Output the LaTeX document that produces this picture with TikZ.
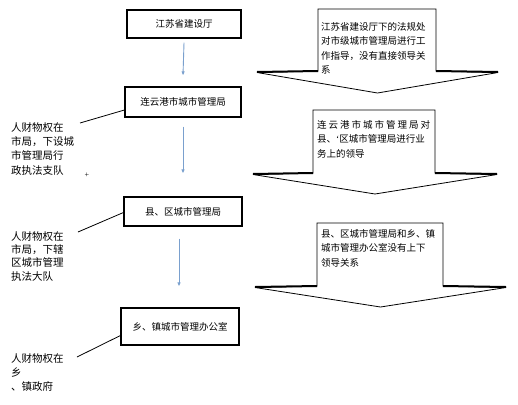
\documentclass[tikz,border=0pt]{standalone}
\usepackage{fontspec}
\setmainfont{Liberation Serif}
\newfontfamily\cjk{Noto Sans CJK SC}
\newfontfamily\latinfont{Liberation Serif}
\usetikzlibrary{arrows.meta}
\definecolor{flowblue}{RGB}{122,160,206}
\tikzset{
  orgbox/.style={draw=black, line width=1.1pt, minimum height=29pt, inner sep=0pt, font=\cjk\fontsize{9.5}{12}\selectfont},
  flowarrow/.style={draw=flowblue, line width=0.9pt, -{Latex[length=4pt,width=3.5pt]}},
  sideline/.style={draw=black, line width=0.8pt},
  sidetext/.style={anchor=north west, inner sep=0pt, align=left},
  arrowtext/.style={anchor=north west, inner sep=0pt, align=left, font=\cjk\fontsize{9.5}{14.4}\selectfont},
  blockarrow/.style={draw=black, line width=0.8pt, fill=white},
  shoulder/.style={draw=black, line width=2pt},
}
\begin{document}
\begin{tikzpicture}[x=1pt,y=-1pt]
\useasboundingbox[fill=white] (0,0) rectangle (518,404);

% right block arrows
\foreach \L/\R/\T/\S/\WL/\WR/\P in {318/436/9/71/257/498/93, 313/435/110/173/253/497/194, 317/443/223/286/255/506/307}{
  \pgfmathsetmacro{\tipx}{(\WL+\WR)/2}
  \draw[blockarrow] (\L,\T) -- (\R,\T) -- (\R,\S) -- (\WR,\S+1.5) -- (\tipx,\P) -- (\WL,\S+1.5) -- (\L,\S) -- cycle;
  \draw[shoulder] (\L,\S) -- (\WL,\S+1);
  \draw[shoulder] (\R,\S) -- (\WR,\S+1);
}

\node[arrowtext] (t1) at (321,22) {江苏省建设厅下的法规处\\对市级城市管理局进行工\\作指导，没有直接领导关\\系};
\node[arrowtext] (t2) at (317,120) {\makebox[113pt][s]{连\hfill 云\hfill 港\hfill 市\hfill 城\hfill 市\hfill 管\hfill 理\hfill 局\hfill 对}\\县、{\latinfont ‘}区城市管理局进行业\\务上的领导};
\node[arrowtext] (t3) at (321,229) {县、区城市管理局和乡、镇\\城市管理办公室没有上下\\领导关系};

% left column boxes
\node[orgbox, minimum width=114pt, minimum height=28pt] (b1) at (184,24) {江苏省建设厅};
\node[orgbox, minimum width=116pt, minimum height=30pt] (b2) at (183,102) {连云港市城市管理局};
\node[orgbox, minimum width=118pt, minimum height=29pt] (b3) at (183,211.5) {县、区城市管理局};
\node[orgbox, minimum width=118pt, minimum height=37pt] (b4) at (180,326.5) {乡、镇城市管理办公室};

% flow arrows
\draw[flowarrow] ([yshift=-4pt]b1.south) -- ([yshift=11pt]b2.north);
\draw[flowarrow] ([yshift=-9pt]b2.south) -- ([yshift=23pt]b3.north);
\draw[flowarrow] ([xshift=-4pt,yshift=-12pt]b3.south) -- ([xshift=-1pt,yshift=21pt]b4.north);

% side notes
\node[sidetext, font=\cjk\fontsize{10.5}{14.4}\selectfont] (n1) at (11,122) {人财物权在\\市局，下设城\\市管理局行\\政执法支队};
\node[sidetext, font=\cjk\fontsize{10.5}{13.4}\selectfont] (n2) at (11,231) {人财物权在\\市局，下辖\\区城市管理\\执法大队};
\node[sidetext, font=\cjk\fontsize{10.5}{14}\selectfont] (n3) at (11,353) {人财物权在\\乡\\、镇政府};
\node[inner sep=0pt, font=\fontsize{8}{8}\selectfont] (plus) at (87,175) {+};

\coordinate (c1) at (80,123);
\coordinate (c2) at (78,232);
\coordinate (c3) at (77,357);
\draw[sideline] (c1) -- ([yshift=-8pt]b2.west);
\draw[sideline] (c2) -- ([yshift=-1pt]b3.west);
\draw[sideline] (c3) -- ([yshift=-9pt]b4.west);
\end{tikzpicture}
\end{document}
